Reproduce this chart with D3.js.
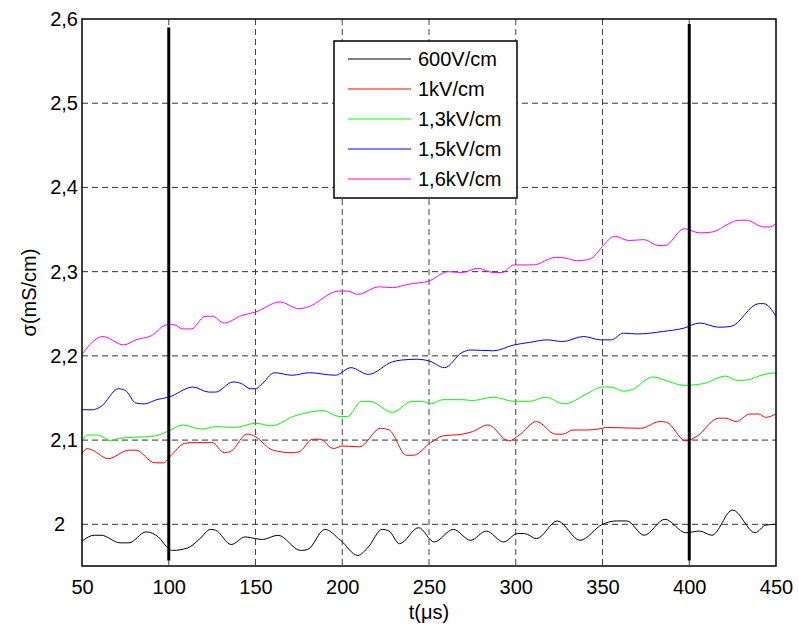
<!DOCTYPE html>
<html>
<head>
<meta charset="utf-8">
<script src="https://cdn.jsdelivr.net/npm/d3@7"></script>
<style>
  html, body { margin: 0; padding: 0; background: #fff; }
  svg { display: block; }
  text { font-family: "Liberation Sans", Arial, sans-serif; fill: #000; }
</style>
</head>
<body>
<svg id="chart" width="799" height="628"></svg>
<script>
// ---- data ----
const seriesNames = ["600V/cm", "1kV/cm", "1,3kV/cm", "1,5kV/cm", "1,6kV/cm"];
const seriesColors = ["#000000", "#ff0000", "#00ff00", "#0000ff", "#ff00ff"];

const t600 = [50, 57, 61, 72, 77, 87, 94, 100, 102, 111, 118, 124, 127, 136, 144, 150, 154, 163, 176, 180, 190, 199, 209, 215, 223, 227, 233, 244, 253, 264, 274, 283, 293, 301, 305, 312, 324, 337, 350, 358, 364, 374, 386, 398, 406, 413, 425, 438, 444, 450];
const v600 = [1.980, 1.987, 1.987, 1.978, 1.978, 1.991, 1.985, 1.971, 1.969, 1.972, 1.983, 1.994, 1.993, 1.976, 1.985, 1.983, 1.982, 1.987, 1.969, 1.970, 1.994, 1.981, 1.963, 1.973, 1.994, 1.992, 1.977, 1.996, 1.979, 1.994, 1.981, 1.992, 1.979, 1.989, 1.989, 1.983, 2.004, 1.981, 2.000, 2.004, 2.004, 1.987, 2.006, 1.990, 1.992, 1.987, 2.017, 1.990, 1.999, 2.000];

const t1k = [50, 53, 56, 65, 77, 81, 92, 97, 101, 109, 113, 125, 132, 136, 145, 148, 150, 160, 171, 175, 183, 187, 195, 200, 210, 222, 227, 237, 241, 251, 258, 269, 275, 284, 296, 302, 312, 323, 327, 333, 341, 347, 353, 372, 383, 387, 398, 404, 417, 421, 427, 435, 440, 444, 450];
const v1k = [2.084, 2.090, 2.088, 2.078, 2.088, 2.088, 2.073, 2.073, 2.081, 2.096, 2.097, 2.097, 2.085, 2.087, 2.107, 2.106, 2.104, 2.088, 2.085, 2.086, 2.101, 2.101, 2.090, 2.093, 2.092, 2.114, 2.112, 2.082, 2.082, 2.097, 2.105, 2.107, 2.110, 2.118, 2.099, 2.106, 2.122, 2.107, 2.107, 2.112, 2.112, 2.113, 2.115, 2.114, 2.122, 2.121, 2.099, 2.104, 2.126, 2.126, 2.122, 2.131, 2.131, 2.127, 2.131];

const t13k = [50, 53, 59, 67, 71, 92, 100, 108, 119, 127, 138, 150, 159, 173, 189, 198, 203, 211, 216, 229, 240, 246, 251, 258, 269, 275, 287, 299, 308, 317, 328, 341, 350, 355, 362, 367, 379, 386, 397, 408, 421, 427, 432, 443, 450];
const v13k = [2.099, 2.106, 2.106, 2.099, 2.102, 2.105, 2.111, 2.118, 2.113, 2.116, 2.115, 2.120, 2.117, 2.129, 2.135, 2.128, 2.128, 2.146, 2.146, 2.133, 2.146, 2.146, 2.143, 2.148, 2.148, 2.147, 2.151, 2.146, 2.146, 2.151, 2.143, 2.155, 2.163, 2.163, 2.158, 2.160, 2.175, 2.171, 2.165, 2.167, 2.176, 2.171, 2.171, 2.178, 2.180];

const t15k = [50, 56, 61, 71, 75, 81, 86, 93, 100, 114, 123, 127, 137, 142, 147, 150, 153, 161, 171, 181, 196, 205, 215, 229, 234, 243, 250, 259, 269, 274, 287, 299, 308, 318, 327, 339, 349, 355, 362, 370, 385, 397, 406, 417, 424, 440, 443, 450];
const v15k = [2.136, 2.136, 2.140, 2.161, 2.159, 2.144, 2.143, 2.148, 2.151, 2.163, 2.157, 2.157, 2.169, 2.167, 2.161, 2.161, 2.165, 2.180, 2.177, 2.180, 2.177, 2.186, 2.178, 2.193, 2.195, 2.196, 2.194, 2.186, 2.204, 2.207, 2.206, 2.213, 2.216, 2.219, 2.217, 2.223, 2.219, 2.219, 2.227, 2.226, 2.229, 2.233, 2.239, 2.234, 2.235, 2.262, 2.262, 2.247];

const t16k = [50, 62, 74, 81, 90, 99, 103, 108, 113, 121, 125, 132, 142, 150, 164, 175, 180, 198, 203, 209, 221, 229, 238, 250, 261, 269, 278, 287, 292, 299, 310, 323, 329, 335, 341, 345, 350, 357, 365, 374, 382, 386, 397, 406, 413, 423, 428, 433, 443, 446, 450];
const v16k = [2.202, 2.223, 2.213, 2.219, 2.224, 2.237, 2.237, 2.232, 2.232, 2.247, 2.247, 2.239, 2.248, 2.252, 2.264, 2.256, 2.258, 2.277, 2.277, 2.273, 2.282, 2.281, 2.285, 2.289, 2.300, 2.299, 2.304, 2.299, 2.299, 2.308, 2.308, 2.317, 2.316, 2.313, 2.314, 2.318, 2.330, 2.342, 2.337, 2.338, 2.331, 2.331, 2.351, 2.346, 2.347, 2.357, 2.361, 2.361, 2.353, 2.353, 2.357];

const xTicks = [50, 100, 150, 200, 250, 300, 350, 400, 450];
const yTicks = [2.0, 2.1, 2.2, 2.3, 2.4, 2.5, 2.6];
const yTickLabels = ["2", "2,1", "2,2", "2,3", "2,4", "2,5", "2,6"];
const markerTimes = [100, 400];
const markerTop = [2.590, 2.594];
const markerBottom = 1.957;

// ---- layout ----
const svg = d3.select("#chart");
const L = 82, R = 776, T = 19, B = 566;
const FS = "20px", LS = "0px";
const x = d3.scaleLinear().domain([50, 450]).range([L, R]);
const y = d3.scaleLinear().domain([1.9505, 2.6]).range([B, T]);

const series = [
  { name: seriesNames[0], color: seriesColors[0], t: t600, v: v600 },
  { name: seriesNames[1], color: seriesColors[1], t: t1k, v: v1k },
  { name: seriesNames[2], color: seriesColors[2], t: t13k, v: v13k },
  { name: seriesNames[3], color: seriesColors[3], t: t15k, v: v15k },
  { name: seriesNames[4], color: seriesColors[4], t: t16k, v: v16k }
];

// grid
const grid = svg.append("g");
grid.selectAll("line.vx").data(xTicks.slice(1, -1)).join("line")
  .attr("x1", d => x(d)).attr("x2", d => x(d)).attr("y1", T).attr("y2", B)
  .attr("stroke", "#444").attr("stroke-width", 1).attr("stroke-dasharray", "6,4");
grid.selectAll("line.hy").data(yTicks.slice(0, -1)).join("line")
  .attr("x1", L).attr("x2", R).attr("y1", d => y(d)).attr("y2", d => y(d))
  .attr("stroke", "#333").attr("stroke-width", 1).attr("stroke-dasharray", "6,4");

// curves
const line = d3.line().x(d => x(d[0])).y(d => y(d[1])).curve(d3.curveMonotoneX);
svg.append("g").selectAll("path").data(series).join("path")
  .attr("d", s => line(s.t.map((t, i) => [t, s.v[i]])))
  .attr("fill", "none").attr("stroke", s => s.color).attr("stroke-width", 1);

// thick markers
svg.append("g").selectAll("line").data(markerTimes).join("line")
  .attr("x1", d => x(d)).attr("x2", d => x(d))
  .attr("y1", (d, i) => y(markerTop[i])).attr("y2", y(markerBottom))
  .attr("stroke", "#000").attr("stroke-width", 3);

// axes box
svg.append("rect").attr("x", L).attr("y", T).attr("width", R - L).attr("height", B - T)
  .attr("fill", "none").attr("stroke", "#000").attr("stroke-width", 1.5);

// x axis
const xAxis = d3.axisBottom(x).tickValues(xTicks).tickSize(0).tickPadding(14).tickFormat(d3.format("d"));
const gx = svg.append("g").attr("transform", `translate(0,${B})`).call(xAxis);
gx.select(".domain").remove();
gx.selectAll("text").attr("font-size", FS).attr("letter-spacing", LS)
  .attr("font-family", "Liberation Sans, Arial, sans-serif").attr("fill", "#000");

// y axis
const yAxis = d3.axisLeft(y).tickValues(yTicks).tickSize(0).tickPadding(4)
  .tickFormat((d, i) => yTickLabels[i]);
const gy = svg.append("g").attr("transform", `translate(${L},0)`).call(yAxis);
gy.select(".domain").remove();
gy.selectAll("text").attr("font-size", FS).attr("letter-spacing", LS)
  .attr("font-family", "Liberation Sans, Arial, sans-serif").attr("fill", "#000")
  .attr("dx", (d, i) => i === 0 ? -13 : 0);

// axis labels
svg.append("text").attr("x", (L + R) / 2).attr("y", 619).attr("text-anchor", "middle")
  .attr("font-size", FS).attr("letter-spacing", LS).text("t(μs)");
svg.append("text").attr("transform", `translate(36,${(T + B) / 2}) rotate(-90)`)
  .attr("text-anchor", "middle").attr("font-size", FS).attr("letter-spacing", LS)
  .text("σ(mS/cm)");

// legend
const lg = svg.append("g");
lg.append("rect").attr("x", 334).attr("y", 41).attr("width", 183).attr("height", 157)
  .attr("fill", "#fff").attr("stroke", "#000").attr("stroke-width", 1.5);
const rowY = d3.scalePoint().domain(seriesNames).range([59, 179]);
const items = lg.selectAll("g.item").data(series).join("g")
  .attr("transform", s => `translate(0,${rowY(s.name)})`);
items.append("line").attr("x1", 348).attr("x2", 411).attr("y1", 0).attr("y2", 0)
  .attr("stroke", s => s.color).attr("stroke-width", 1);
items.append("text").attr("x", 418).attr("y", 0).attr("dy", "0.35em")
  .attr("font-size", FS).attr("letter-spacing", LS).text(s => s.name);
</script>
</body>
</html>
